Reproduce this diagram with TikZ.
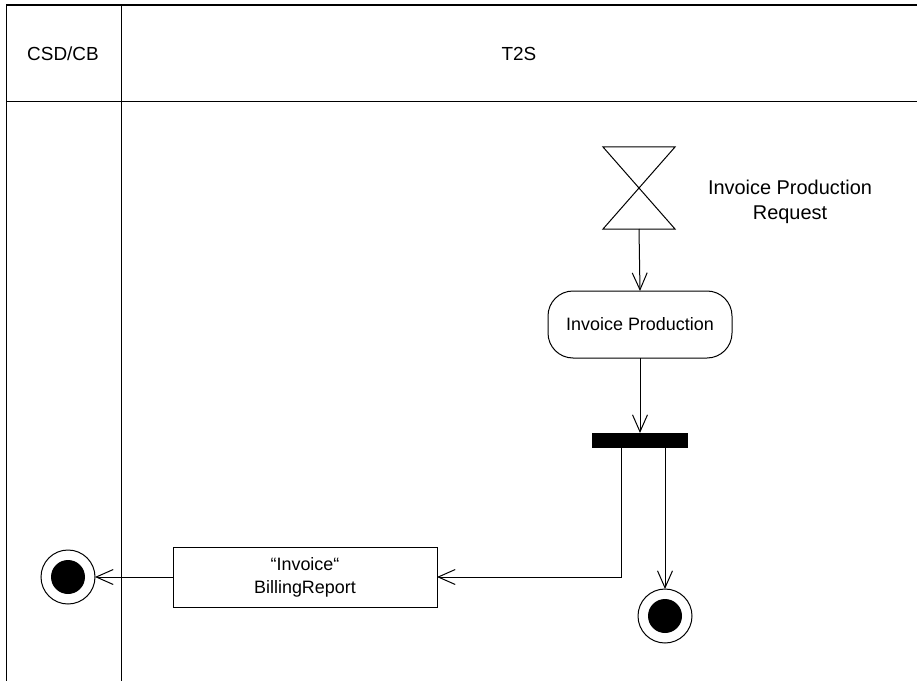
\documentclass[tikz,border=0pt]{standalone}
\usepackage{fontspec}
\setmainfont{Liberation Sans}
\usetikzlibrary{arrows.meta,calc}
\begin{document}
\begin{tikzpicture}[x=1bp,y=-1bp,
  line width=1bp,
  every node/.style={inner sep=0pt, outer sep=0pt},
  hdr/.style={font=\fontsize{19}{22}\selectfont},
  lbl/.style={font=\fontsize{20}{25}\selectfont, align=center},
  ntext/.style={font=\fontsize{18}{23}\selectfont, align=center},
  action/.style={draw, rounded corners=25bp, minimum width=184bp, minimum height=67bp, ntext},
  objbox/.style={draw, minimum width=264bp, minimum height=60bp, ntext},
  forkbar/.style={fill=black, minimum width=96bp, minimum height=15bp},
  finalnode/.style={draw, circle, minimum size=54bp,
    path picture={\fill[black] (path picture bounding box.center) circle (17bp);}},
  flow/.style={-{Straight Barb[length=17bp,width=15bp]}}
]
\useasboundingbox (0,0) rectangle (917,681);
% swimlane frame
\draw[line width=1.3bp] (6,5) -- (917,5);
\draw (6,5) -- (6,681);
\draw (121,5) -- (121,681);
\draw (6,102) -- (917,102);
\node[hdr] (laneA) at (63,54) {CSD/CB};
\node[hdr] (laneB) at (519,54) {T2S};
% accept event (hourglass)
\node[minimum width=72bp, minimum height=82bp] (req) at (639,188) {};
\draw (req.north west) -- (req.north east) -- (req.south west) -- (req.south east) -- cycle;
\node[lbl] (reqlbl) at (790,202) {Invoice Production\\Request};
% action
\node[action] (act) at (640,324.5) {Invoice Production};
% fork
\node[forkbar] (bar) at (640,440.5) {};
\coordinate (forkL) at (621,448);
% object
\node[objbox] (obj) at (305,577) {“Invoice“\\BillingReport};
% final nodes
\node[finalnode] (endL) at (68,577) {};
\node[finalnode] (endR) at (665,616) {};
% flows
\draw[flow] (req.south) -- (act.north);
\draw[flow] (act.south) -- (bar.north);
\draw[flow] (forkL) |- (obj.east);
\draw[flow] (endR |- bar.south) -- (endR.north);
\draw[flow] (obj.west) -- (endL.east);
\end{tikzpicture}
\end{document}
